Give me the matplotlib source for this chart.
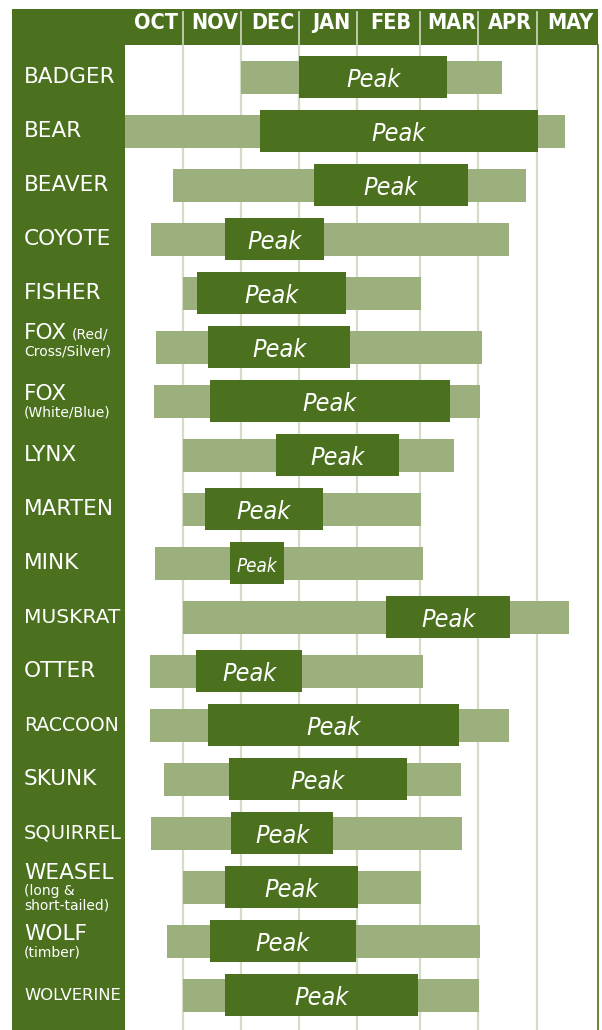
import numpy as np
import matplotlib
matplotlib.use("Agg")
import matplotlib.pyplot as plt
from matplotlib.patches import Rectangle
from matplotlib import transforms

# ---------------- data ----------------
months = ["OCT", "NOV", "DEC", "JAN", "FEB", "MAR", "APR", "MAY"]
names = ["BADGER", "BEAR", "BEAVER", "COYOTE", "FISHER", "FOX", "FOX", "LYNX",
         "MARTEN", "MINK", "MUSKRAT", "OTTER", "RACCOON", "SKUNK", "SQUIRREL",
         "WEASEL", "WOLF", "WOLVERINE"]
inline_notes = ["", "", "", "", "", "(Red/", "", "", "", "", "", "", "", "", "", "", "", ""]
sub_notes = ["", "", "", "", "", "Cross/Silver)", "(White/Blue)", "", "", "", "", "", "",
             "", "", "(long &\nshort-tailed)", "(timber)", ""]
# months after Oct 1 (0 = Oct 1, 1 = Nov 1, ...)
season_start = [2.00, 0.00, 0.83, 0.45, 1.00, 0.54, 0.50, 1.00, 1.00, 0.52, 1.00, 0.44,
                0.44, 0.68, 0.45, 1.00, 0.73, 1.00]
season_end = [6.42, 7.46, 6.82, 6.53, 5.02, 6.07, 6.04, 5.59, 5.02, 5.05, 7.53, 5.05,
              6.53, 5.71, 5.73, 5.02, 6.04, 6.02]
peak_start = [3.00, 2.33, 3.25, 1.73, 1.25, 1.44, 1.47, 2.60, 1.38, 1.81, 4.46, 1.23,
              1.44, 1.80, 1.84, 1.73, 1.47, 1.73]
peak_end = [5.47, 7.02, 5.83, 3.43, 3.81, 3.88, 5.52, 4.67, 3.41, 2.74, 6.55, 3.05,
            5.68, 4.79, 3.58, 4.02, 3.98, 4.97]

# ---------------- style ----------------
DARK = "#4b711e"
LIGHT = "#9bb07c"
GRID = "#d3dcc5"
W, H = 602, 1030
col_edges_px = [124.7, 182.7, 240.7, 299.3, 357.0, 420.0, 477.7, 536.7, 597.7]
name_size = {"MUSKRAT": 14.6, "RACCOON": 13.6, "SQUIRREL": 14.0, "WOLVERINE": 11.8}
NARROW = ["Noto Sans ExtraCondensed", "Noto Sans Condensed", "Noto Sans SemiCondensed",
          "DejaVu Sans"]

fig = plt.figure(figsize=(W / 100, H / 100), dpi=100)
fig.patch.set_facecolor("white")

def fx(px):
    return px / W

def fy(py):
    return 1 - py / H

# left panel and header background
fig.patches.append(Rectangle((fx(12), 0), fx(125) - fx(12), fy(9), transform=fig.transFigure,
                             facecolor=DARK, edgecolor="none", zorder=-5))
fig.patches.append(Rectangle((fx(12), fy(45)), fx(598) - fx(12), fy(9) - fy(45),
                             transform=fig.transFigure, facecolor=DARK, edgecolor="none",
                             zorder=-5))

idx = np.arange(len(col_edges_px))
edges = np.array(col_edges_px)
fwd = lambda x: np.interp(x, idx, edges)
inv = lambda p: np.interp(p, edges, idx)

x0, x1 = col_edges_px[0], col_edges_px[-1]
ax = fig.add_axes([fx(x0), 0, fx(x1) - fx(x0), fy(45)])
ax.set_xscale("function", functions=(fwd, inv))
ax.set_xlim(0, len(months))
n = len(names)
ax.set_ylim(17.64, -0.6)
ax.set_facecolor("white")
for s in ["top", "bottom", "left"]:
    ax.spines[s].set_visible(False)
ax.spines["right"].set_color(DARK)
ax.spines["right"].set_linewidth(1.2)
ax.set_xticks([])
ax.set_yticks([])

for k in range(1, len(months)):
    ax.axvline(k, color=GRID, lw=1.6, zorder=0)

ypos = np.arange(n)
ax.barh(ypos, np.array(season_end) - np.array(season_start), left=season_start,
        height=0.6, color=LIGHT, zorder=2)
ax.barh(ypos, np.array(peak_end) - np.array(peak_start), left=peak_start,
        height=0.78, color=DARK, zorder=3)

for i in range(n):
    c = fwd(peak_start[i]), fwd(peak_end[i])
    cx = inv((c[0] + c[1]) / 2)
    size = 13.5 if names[i] == "MINK" else 18
    ax.text(cx, i + 0.05, "Peak", color="white", fontsize=size, style="italic",
            family=NARROW, fontstretch="condensed", ha="center", va="center", zorder=4)

# names
tr = transforms.blended_transform_factory(fig.transFigure, ax.transData)
for i, nm in enumerate(names):
    sz = name_size.get(nm, 15.6)
    if sub_notes[i]:
        nlines = sub_notes[i].count("\n") + 1
        main_off = -0.26 if (inline_notes[i] or nlines > 1) else -0.13
        t = ax.text(fx(24), i + main_off, nm, transform=tr, color="white", fontsize=sz,
                    ha="left", va="center", clip_on=False, family="DejaVu Sans", zorder=6)
        if inline_notes[i]:
            ax.annotate(inline_notes[i], xy=(1, 0.1), xycoords=t, xytext=(3, 0),
                        textcoords="offset points", color="white", fontsize=10,
                        ha="left", va="bottom", family="DejaVu Sans", zorder=6)
        ax.text(fx(24), i + main_off + 0.2, sub_notes[i], transform=tr, color="white",
                fontsize=10, ha="left", va="top", clip_on=False, linespacing=1.0,
                family="DejaVu Sans", zorder=6)
    else:
        ax.text(fx(24), i, nm, transform=tr, color="white", fontsize=sz,
                ha="left", va="center", clip_on=False, family="DejaVu Sans", zorder=6)

# header
hx = fig.add_axes([fx(x0), fy(45), fx(x1) - fx(x0), fy(9) - fy(45)])
hx.set_xscale("function", functions=(fwd, inv))
hx.set_xlim(0, len(months))
hx.set_ylim(0, 1)
hx.set_facecolor(DARK)
for s in hx.spines.values():
    s.set_visible(False)
hx.set_xticks([])
hx.set_yticks([])
for k in range(1, len(months)):
    hx.axvline(k, ymin=0, ymax=0.92, color="#c5d1b3", lw=1.3)
for k, m in enumerate(months):
    cx = inv((fwd(k) + fwd(k + 1)) / 2)
    hx.annotate(m, xy=(cx, 0.62), xytext=(2, 0), textcoords="offset points",
                color="white", fontsize=15.5, fontweight="bold", family=NARROW,
                fontstretch="condensed", ha="center", va="center")

fig.savefig("out.png", dpi=100, facecolor="white")
